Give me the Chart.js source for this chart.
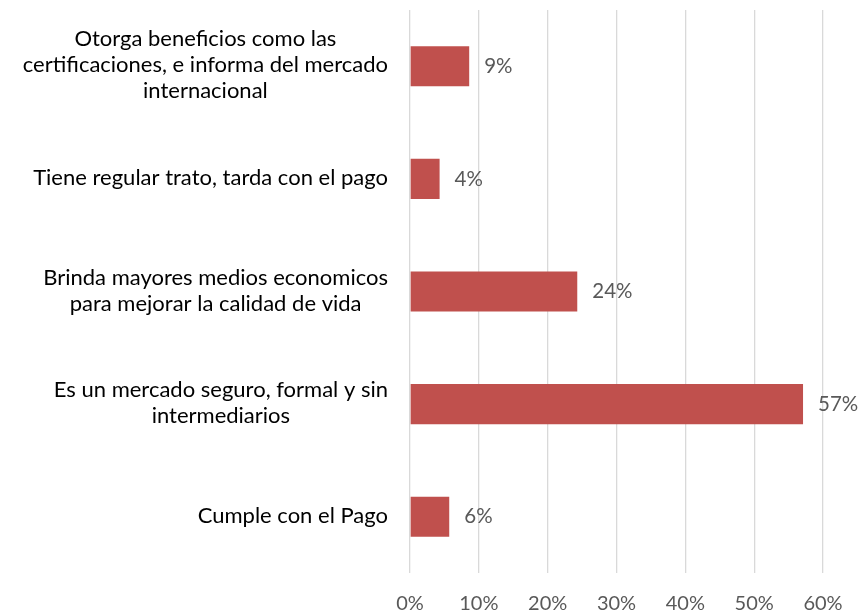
<!DOCTYPE html>
<html>
<head>
<meta charset="utf-8">
<script src="https://cdn.jsdelivr.net/npm/chart.js@4.4.0/dist/chart.umd.min.js"></script>
<style>
  html, body { margin: 0; padding: 0; background: #fff; }
  #wrap { width: 862px; height: 613px; position: relative; }
</style>
</head>
<body>
<div id="wrap"><canvas id="c" width="862" height="613"></canvas></div>
<script>
const categories = [
  ["Otorga beneficios como las", "certificaciones, e informa del mercado", "internacional"],
  ["Tiene regular trato, tarda con el pago"],
  ["Brinda mayores medios economicos", "para mejorar la calidad de vida"],
  ["Es un mercado seguro, formal y sin", "intermediarios"],
  ["Cumple con el Pago"]
];
const values = [8.6, 4.3, 24.3, 57.1, 5.7];
const valueLabels = ["9%", "4%", "24%", "57%", "6%"];
const xTicks = [0, 10, 20, 30, 40, 50, 60];

const FONT = "Lato, 'Open Sans', sans-serif";

const catLabelPlugin = {
  id: 'catLabels',
  afterDraw(chart) {
    const ctx = chart.ctx;
    const y = chart.scales.y;
    const rightEdge = 388;
    const lh = 26;
    ctx.save();
    ctx.font = "22px " + FONT;
    ctx.fillStyle = "#000000";
    ctx.textBaseline = "middle";
    categories.forEach((lines, i) => {
      const cy = y.getPixelForTick(i) - 1;
      const w = Math.max(...lines.map(l => ctx.measureText(l).width));
      const cx = rightEdge - w / 2;
      ctx.textAlign = "center";
      const start = cy - (lines.length - 1) * lh / 2;
      lines.forEach((l, k) => ctx.fillText(l, cx, start + k * lh));
    });
    ctx.restore();
  }
};

const valueLabelPlugin = {
  id: 'valLabels',
  afterDatasetsDraw(chart) {
    const ctx = chart.ctx;
    const meta = chart.getDatasetMeta(0);
    ctx.save();
    ctx.font = "20.5px " + FONT;
    ctx.fillStyle = "#595959";
    ctx.textAlign = "left";
    ctx.textBaseline = "middle";
    meta.data.forEach((bar, i) => {
      ctx.fillText(valueLabels[i], bar.x + 15, bar.y);
    });
    ctx.restore();
  }
};

new Chart(document.getElementById('c'), {
  type: 'bar',
  data: {
    labels: categories.map(c => c.join(' ')),
    datasets: [{
      data: values,
      backgroundColor: '#c0504d',
      borderWidth: 0,
      categoryPercentage: 1,
      barPercentage: 0.356
    }]
  },
  options: {
    indexAxis: 'y',
    responsive: false,
    animation: false,
    devicePixelRatio: 1,
    layout: { padding: { top: 10, right: 39, left: 0, bottom: 0 } },
    plugins: { legend: { display: false }, tooltip: { enabled: false }, title: { display: false } },
    scales: {
      x: {
        min: 0, max: 60,
        afterBuildTicks(scale) { scale.ticks = xTicks.map(v => ({ value: v })); },
        grid: { color: '#d9d9d9', lineWidth: 1.3, drawTicks: false },
        border: { display: false },
        ticks: {
          padding: 19,
          color: '#595959',
          font: { family: FONT, size: 20 },
          callback: v => v + '%'
        },
        afterFit(scale) { scale.height = 40; }
      },
      y: {
        grid: { display: false },
        border: { display: false },
        ticks: { display: false },
        afterFit(scale) { scale.width = 410; }
      }
    }
  },
  plugins: [catLabelPlugin, valueLabelPlugin]
});
</script>
</body>
</html>
